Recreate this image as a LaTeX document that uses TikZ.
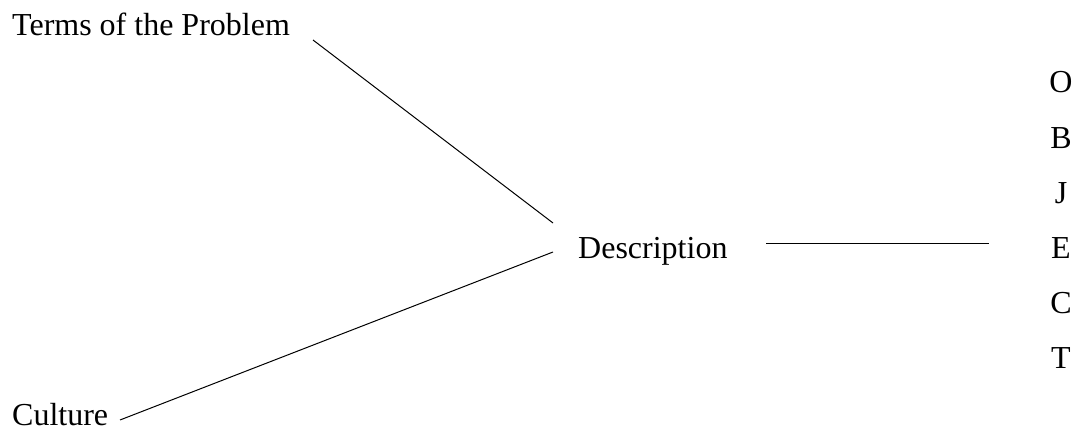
\documentclass[tikz,border=0pt]{standalone}
\usepackage{fontspec}
\setmainfont{Liberation Serif}
\usetikzlibrary{positioning}

\begin{document}
\begin{tikzpicture}[
    x=1pt, y=-1pt,
    font=\fontsize{32}{38}\selectfont,
    label/.style={inner sep=0pt, anchor=base west},
    letter/.style={inner sep=0pt, anchor=base},
    link/.style={black, line width=1pt}
]
% --- Cornice ---
\useasboundingbox (0,0) rectangle (1077,430);

% --- Etichette ---
\node[label] (terms) at (12,36) {Terms of the Problem};
\node[label] (descr) at (578,259) {Description};
\node[label] (cult) at (12,425) {Culture};

% --- Parola verticale ---
\foreach \l [count=\i] in {O,B,J,E,C,T} {
    \node[letter] (obj\i) at (1061,{37.8+\i*55.2}) {\l};
}

% --- Estremi dei segmenti ---
\coordinate (termsEnd) at (313,40);
\coordinate (descrIn1) at (553,223);
\coordinate (descrIn2) at (553,252);
\coordinate (cultEnd) at (120,420);
\coordinate (descrOut) at (766,244);
\coordinate (objIn) at (989,244);

% --- Segmenti ---
\draw[link] (termsEnd) -- (descrIn1);
\draw[link] (descrIn2) -- (cultEnd);
\draw[link] (descrOut) -- (objIn);

\end{tikzpicture}
\end{document}
